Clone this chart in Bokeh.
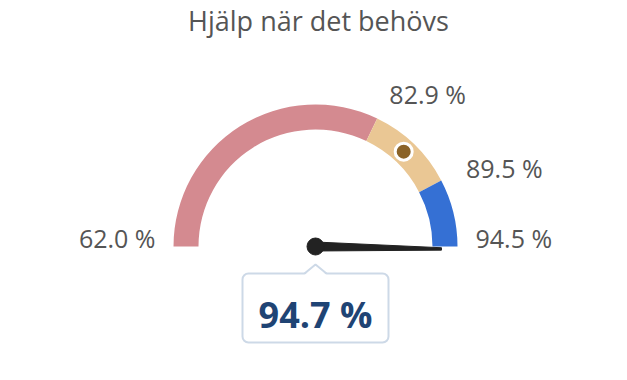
import numpy as np
from bokeh.plotting import figure
from bokeh.models import Range1d, BoxAnnotation
from bokeh.core.properties import value
from bokeh.embed import file_html
from bokeh.resources import INLINE

# ---- data ----
title_text = "Hjälp när det behövs"
gauge_min = 62.0
gauge_max = 94.5
band_edges = [62.0, 82.9, 89.5, 94.5]
band_colors = ["#d48a90", "#eac794", "#3570d4"]
needle_value = 94.7
marker_value = 86.0
label_values = [62.0, 82.9, 89.5, 94.5]

W, H = 611, 364
FONT = "Open Sans"
p = figure(width=W, height=H, output_backend="svg", toolbar_location=None,
           x_range=Range1d(0, W), y_range=Range1d(0, H), min_border=0)
p.axis.visible = False
p.grid.visible = False
p.outline_line_color = None
p.background_fill_color = "white"
p.border_fill_color = "white"

cx, cy = 315.0, 118.0
r_out, r_in = 142.0, 117.0


def theta(v):
    return np.pi * (1 - (v - gauge_min) / (gauge_max - gauge_min))


# bands
starts = [theta(b) for b in band_edges[1:]]
ends = [theta(a) for a in band_edges[:-1]]
p.annular_wedge(x=[cx] * 3, y=[cy] * 3, inner_radius=r_in, outer_radius=r_out,
                start_angle=starts, end_angle=ends, color=band_colors, line_color=None)

# marker dot
tm = theta(marker_value)
rm = (r_in + r_out) / 2
p.scatter(x=[cx + rm * np.cos(tm)], y=[cy + rm * np.sin(tm)], size=17,
          fill_color="#8b6328", line_color="white", line_width=3)

# labels
for v in label_values:
    t = f"{v:.1f} %"
    a = theta(v)
    if v in (gauge_min, gauge_max):
        x = cx + 160 * np.cos(a)
        y = cy + 9
        align = "right" if v == gauge_min else "left"
    else:
        x = cx + 170 * np.cos(a)
        y = cy + 170 * np.sin(a) - 1
        align = "left"
    p.text(x=[x], y=[y], text=[t], text_font=value(FONT), text_font_size="25px",
           text_color="#555555", text_align=align, text_baseline="middle")

# needle
tn = theta(needle_value)
L = 126.0
ux, uy = np.cos(tn), np.sin(tn)
px_, py_ = -uy, ux
w0, w1 = 4.5, 1.2
nx = [cx + px_ * w0, cx + ux * L + px_ * w1, cx + ux * L - px_ * w1, cx - px_ * w0]
ny = [cy + py_ * w0, cy + uy * L + py_ * w1, cy + uy * L - py_ * w1, cy - py_ * w0]
p.patch(nx, ny, fill_color="#222222", line_color="#222222", line_width=1)
p.scatter(x=[cx], y=[cy], size=17, fill_color="#222222", line_color="#222222")

# callout box
box_top, box_bot = cy - 27, cy - 96
box = BoxAnnotation(left=cx - 73, right=cx + 73, top=box_top, bottom=box_bot,
                    fill_color="white", fill_alpha=1, line_color="#cdd9e7",
                    line_alpha=1, line_width=2, border_radius=6, level="underlay")
p.add_layout(box)
tri_x = [cx - 11, cx, cx + 11]
tri_y = [box_top - 1.5, box_top + 9, box_top - 1.5]
p.patch(tri_x, tri_y, fill_color="white", line_color=None)
p.line(tri_x, [box_top, box_top + 9, box_top], line_color="#cdd9e7", line_width=2)
p.text(x=[cx], y=[cy - 68], text=[f"{needle_value:.1f} %"], text_font=value(FONT),
       text_font_size="36px", text_font_style="bold", text_color="#1f4474",
       text_align="center", text_baseline="middle")

# title
p.text(x=[318], y=[H - 20], text=[title_text], text_font=value(FONT),
       text_font_size="27px", text_color="#555555", text_align="center",
       text_baseline="middle")

open("out.html", "w").write(file_html(p, INLINE))
